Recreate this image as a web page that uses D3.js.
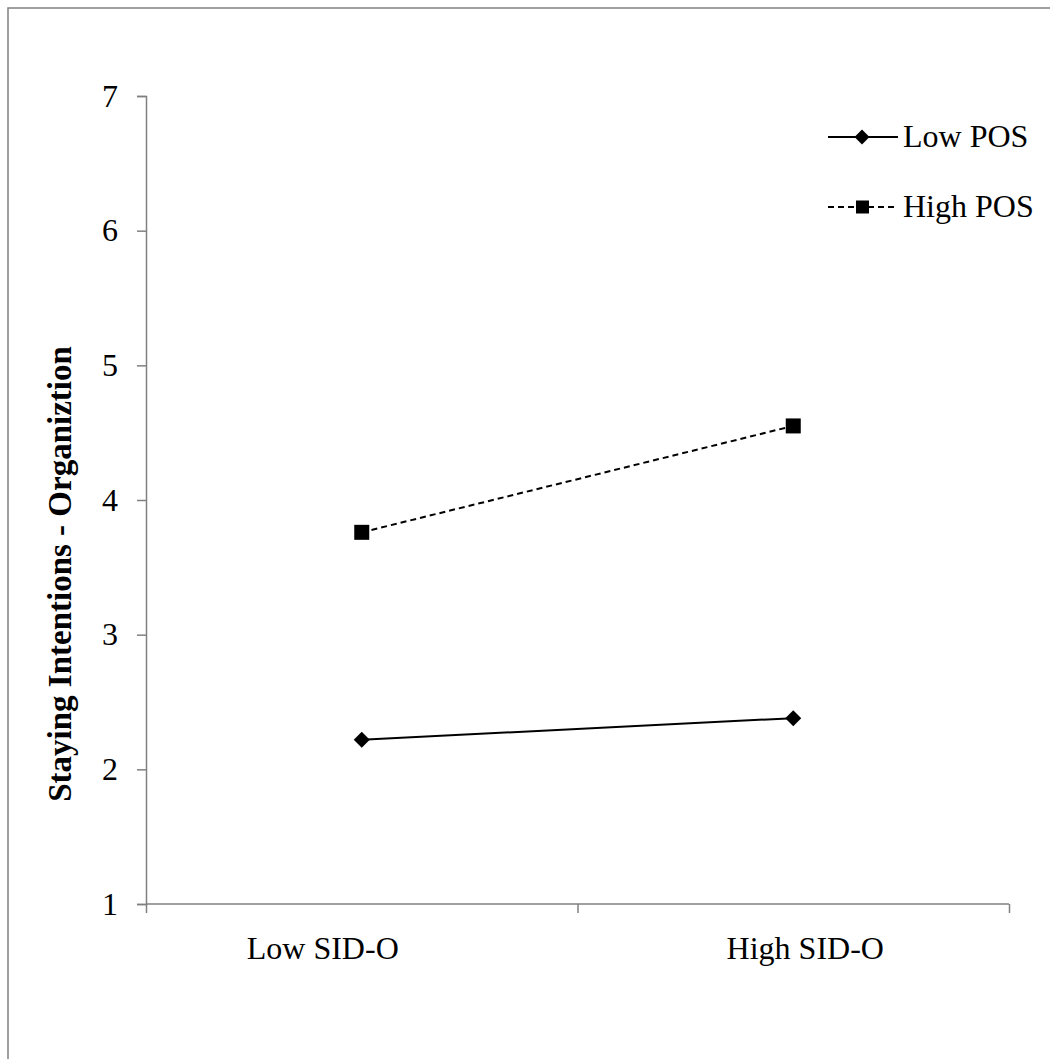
<!DOCTYPE html>
<html><head><meta charset="utf-8">
<script src="https://cdn.jsdelivr.net/npm/d3@7"></script>
<style>body{margin:0;background:#fff}svg{display:block}</style>
</head><body>
<script>
const categories = ["Low SID-O", "High SID-O"];
const seriesNames = ["Low POS", "High POS"];
const lowPOS = [2.22, 2.38];
const highPOS = [3.76, 4.55];
const yTicks = [1, 2, 3, 4, 5, 6, 7];
const yTitle = "Staying Intentions - Organiztion";

const W = 1050, H = 1059;
const svg = d3.select("body").append("svg").attr("width", W).attr("height", H);
const font = "'Liberation Serif','Times New Roman',serif";

// outer frame (left and top)
svg.append("path").attr("d", `M8,${H} L8,8 L${W},8`).attr("fill","none").attr("stroke","#808080").attr("stroke-width",1.5);

const x = d3.scalePoint().domain(categories).range([146, 1009]).padding(0.5);
const y = d3.scaleLinear().domain([1, 7]).range([904, 96]);

// y axis
const yAxis = svg.append("g").attr("transform","translate(146,0)")
  .call(d3.axisLeft(y).tickValues(yTicks).tickSize(9).tickPadding(19).tickFormat(d3.format("d")));
yAxis.selectAll("path,line").attr("stroke","#808080").attr("stroke-width",1.5);
yAxis.selectAll("text").attr("font-family",font).attr("font-size",32).attr("fill","#000");

// x axis
const xb = d3.scaleLinear().domain([0, 2]).range([146, 1009]);
const xAxis = svg.append("g").attr("transform","translate(0,904)")
  .call(d3.axisBottom(xb).tickValues([0,1,2]).tickSize(9).tickFormat(""));
xAxis.selectAll("path,line").attr("stroke","#808080").attr("stroke-width",1.5);
xAxis.select("path").attr("d","M146,0H1009");
svg.append("g").selectAll("text").data(categories).join("text")
  .attr("x", d => x(d) - 39 + (d === categories[1] ? 51 : 0)).attr("y", 959).attr("text-anchor","middle")
  .attr("font-family",font).attr("font-size",32).text(d => d);

// y title
svg.append("text").attr("transform",`translate(71,574) rotate(-90)`)
  .attr("text-anchor","middle").attr("font-family",font).attr("font-weight","bold")
  .attr("font-size",33).text(yTitle);

const line = d3.line().x((d,i) => x(categories[i])).y(d => y(d));
const diamond = (cx, cy, r) => `M${cx},${cy-r}L${cx+r},${cy}L${cx},${cy+r}L${cx-r},${cy}Z`;

// High POS
svg.append("path").datum(highPOS).attr("d", line).attr("fill","none").attr("stroke","#000")
  .attr("stroke-width",2).attr("stroke-dasharray","6,4");
svg.append("g").selectAll("rect").data(highPOS).join("rect")
  .attr("x",(d,i)=>x(categories[i])-7.5).attr("y",d=>y(d)-7.5).attr("width",15).attr("height",15).attr("fill","#000");

// Low POS
svg.append("path").datum(lowPOS).attr("d", line).attr("fill","none").attr("stroke","#000").attr("stroke-width",2);
svg.append("g").selectAll("path").data(lowPOS).join("path")
  .attr("d",(d,i)=>diamond(x(categories[i]), y(d), 8)).attr("fill","#000");

// legend
const lg = svg.append("g");
const ly = [137, 207];
lg.append("line").attr("x1",828).attr("x2",898).attr("y1",ly[0]).attr("y2",ly[0]).attr("stroke","#000").attr("stroke-width",2);
lg.append("path").attr("d",diamond(862,ly[0],7.5)).attr("fill","#000");
lg.append("line").attr("x1",828).attr("x2",898).attr("y1",ly[1]).attr("y2",ly[1]).attr("stroke","#000").attr("stroke-width",2).attr("stroke-dasharray","6,4");
lg.append("rect").attr("x",856).attr("y",ly[1]-6.5).attr("width",13).attr("height",13).attr("fill","#000");
lg.selectAll("text").data(seriesNames).join("text")
  .attr("x",903).attr("y",(d,i)=>ly[i]+10).attr("font-family",font).attr("font-size",32).text(d=>d);
</script>
</body></html>
